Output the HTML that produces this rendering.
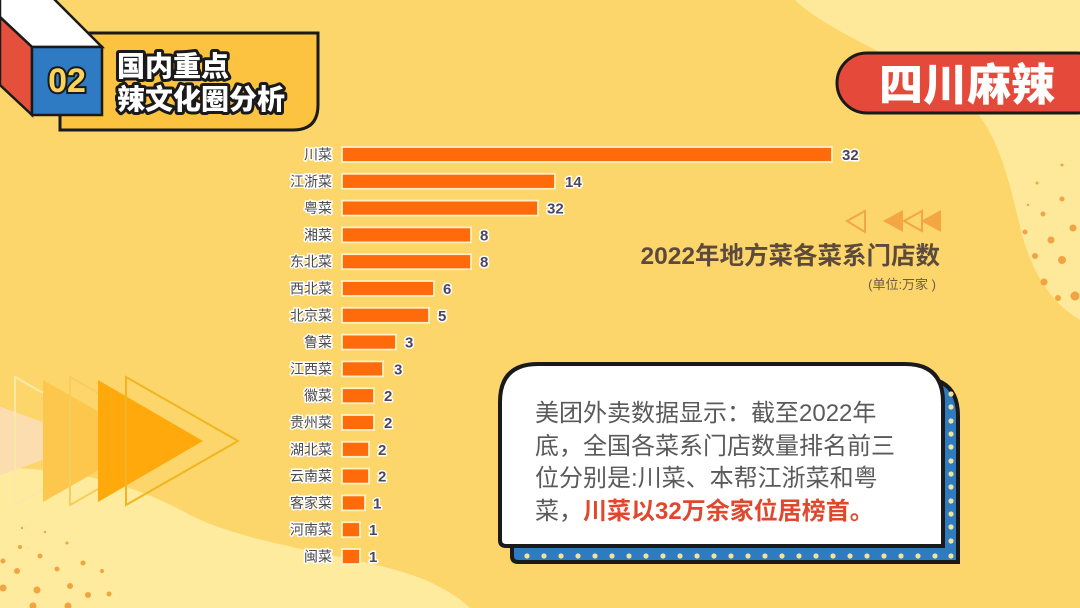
<!DOCTYPE html>
<html><head><meta charset="utf-8"><style>
html,body{margin:0;padding:0;background:#FDD66B;}
svg{display:block;}
text{font-family:"Liberation Sans","Noto Sans CJK SC",sans-serif;}
</style></head><body>
<svg width="1080" height="608" viewBox="0 0 1080 608" xmlns="http://www.w3.org/2000/svg">
<rect width="1080" height="608" fill="#FDD66B"/>
<!-- light blobs -->
<path d="M795,0 C830,35 930,70 970,105 C1000,135 1010,185 1022,235 C1035,280 1055,305 1080,320 L1080,0 Z" fill="#FEE99A"/>
<path d="M0,468 C70,468 130,482 190,515 C260,550 370,555 430,582 C450,592 462,600 470,608 L0,608 Z" fill="#FEEB9E"/>
<!-- dots right -->
<g fill="#F2A440">
<circle cx="1062" cy="165" r="1.5"/><circle cx="1037" cy="183" r="1.5"/><circle cx="1062" cy="199" r="2.5"/>
<circle cx="1028" cy="205" r="1.2"/><circle cx="1043" cy="214" r="2.5"/><circle cx="1073" cy="228" r="3.5"/>
<circle cx="1025" cy="232" r="2.5"/><circle cx="1051" cy="240" r="3.5"/><circle cx="1035" cy="256" r="3"/>
<circle cx="1062" cy="260" r="4"/><circle cx="1044" cy="282" r="3.5"/><circle cx="1075" cy="296" r="4.5"/>
<circle cx="1058" cy="298" r="3"/>
</g>
<!-- dots bottom-left -->
<g fill="#F2A440">
<circle cx="22" cy="528" r="1.2"/><circle cx="45" cy="532" r="1.2"/><circle cx="67" cy="543" r="1.5"/>
<circle cx="20" cy="547" r="2"/><circle cx="40" cy="556" r="2.5"/><circle cx="83" cy="563" r="2.5"/>
<circle cx="3" cy="561" r="2.5"/><circle cx="17" cy="571" r="3"/><circle cx="57" cy="569" r="2.5"/>
<circle cx="102" cy="571" r="2"/><circle cx="70" cy="586" r="3"/><circle cx="37" cy="590" r="3.5"/>
<circle cx="3" cy="588" r="3.5"/><circle cx="88" cy="595" r="3"/><circle cx="109" cy="594" r="2.5"/>
<circle cx="33" cy="606" r="3.5"/><circle cx="68" cy="606" r="3.5"/>
</g>
<!-- left triangles -->
<polygon points="-60,385 -60,497 95,441" fill="#FBDDB0"/>
<polygon points="15,377 15,505 127,441" fill="none" stroke="#FCE7A8" stroke-width="2"/>
<polygon points="43,380 43,502 150,441" fill="#FDC64C"/>
<polygon points="70,377 70,505 182,441" fill="none" stroke="#F7CE5E" stroke-width="2"/>
<polygon points="98,380 98,502 203,441" fill="#FFA90C"/>
<polygon points="126,377 126,505 238,441" fill="none" stroke="#F1B422" stroke-width="2"/>

<!-- header tab -->
<path d="M60,33 L318,33 L318,105 Q318,130 293,130 L60,130 Z" fill="#FBC33F" stroke="#1a1a1a" stroke-width="3"/>
<!-- cube -->
<polygon points="0,-5 50,-5 102,47 32,47 0,17" fill="#FFFFFF" stroke="#1a1a1a" stroke-width="2.5"/>
<polygon points="0,17 32,47 32,115 0,85" fill="#E5503C" stroke="#1a1a1a" stroke-width="2.5"/>
<rect x="32" y="47" width="70" height="68" fill="#2E7BC4" stroke="#1a1a1a" stroke-width="2.5"/>
<text x="67" y="92" text-anchor="middle" font-size="34" font-weight="bold" fill="#FCD35A" stroke="#1a1a1a" stroke-width="4" paint-order="stroke" style="font-family:'Liberation Sans',sans-serif">02</text>
<text x="117" y="76" font-size="28" font-weight="900" fill="#FFFFFF" stroke="#1a1a1a" stroke-width="6" paint-order="stroke" stroke-linejoin="round">国内重点</text>
<text x="117" y="109" font-size="28" font-weight="900" fill="#FFFFFF" stroke="#1a1a1a" stroke-width="6" paint-order="stroke" stroke-linejoin="round">辣文化圈分析</text>

<!-- right pill -->
<rect x="837" y="53" width="270" height="60" rx="30" fill="#E5493A" stroke="#1a1a1a" stroke-width="3"/>
<text x="879" y="100" font-size="44" font-weight="900" fill="#FFFFFF">四川麻辣</text>

<!-- title -->
<g fill="#F4A544">
<polygon points="847,221 865,211 865,232" fill="none" stroke="#F4A544" stroke-width="2"/>
<polygon points="883,221 903,210 903,232"/>
<polygon points="904,221 922,211 922,231" fill="none" stroke="#F4A544" stroke-width="2"/>
<polygon points="921,221 941,210 941,232"/>
</g>
<text x="940" y="264" text-anchor="end" font-size="24.5" font-weight="bold" fill="#5C4A3C">2022年地方菜各菜系门店数</text>
<text x="936" y="289" text-anchor="end" font-size="13" fill="#6B5A48">(单位:万家 )</text>

<!-- bars -->
<g stroke="#FFF0C0" stroke-width="1.8" fill="#FF6A0A">
<rect x="342" y="147" width="490" height="15"/>
<rect x="342" y="173.8" width="213" height="15"/>
<rect x="342" y="200.6" width="196" height="15"/>
<rect x="342" y="227.4" width="129" height="15"/>
<rect x="342" y="254.2" width="129" height="15"/>
<rect x="342" y="281" width="92" height="15"/>
<rect x="342" y="307.8" width="87" height="15"/>
<rect x="342" y="334.6" width="54" height="15"/>
<rect x="342" y="361.4" width="41" height="15"/>
<rect x="342" y="388.2" width="32" height="15"/>
<rect x="342" y="415" width="32" height="15"/>
<rect x="342" y="441.8" width="27" height="15"/>
<rect x="342" y="468.6" width="27" height="15"/>
<rect x="342" y="495.4" width="23" height="15"/>
<rect x="342" y="522.2" width="18" height="15"/>
<rect x="342" y="549" width="18" height="15"/>
</g>
<g font-size="14" fill="#4A4A4A" text-anchor="end" stroke="#FFFFFF" stroke-width="3" paint-order="stroke" stroke-linejoin="round">
<text x="332" y="159.5">川菜</text>
<text x="332" y="186.3">江浙菜</text>
<text x="332" y="213.1">粤菜</text>
<text x="332" y="239.9">湘菜</text>
<text x="332" y="266.7">东北菜</text>
<text x="332" y="293.5">西北菜</text>
<text x="332" y="320.3">北京菜</text>
<text x="332" y="347.1">鲁菜</text>
<text x="332" y="373.9">江西菜</text>
<text x="332" y="400.7">徽菜</text>
<text x="332" y="427.5">贵州菜</text>
<text x="332" y="454.3">湖北菜</text>
<text x="332" y="481.1">云南菜</text>
<text x="332" y="507.9">客家菜</text>
<text x="332" y="534.7">河南菜</text>
<text x="332" y="561.5">闽菜</text>
</g>
<g font-size="15" font-weight="bold" fill="#4B4560" stroke="#FFFFFF" stroke-width="3" paint-order="stroke" stroke-linejoin="round" style="font-family:'Liberation Sans',sans-serif">
<text x="842" y="160">32</text>
<text x="565" y="186.8">14</text>
<text x="547" y="213.6">32</text>
<text x="480" y="240.4">8</text>
<text x="480" y="267.2">8</text>
<text x="443" y="294">6</text>
<text x="438" y="320.8">5</text>
<text x="405" y="347.6">3</text>
<text x="394" y="374.4">3</text>
<text x="384" y="401.2">2</text>
<text x="384" y="428">2</text>
<text x="378" y="454.8">2</text>
<text x="378" y="481.6">2</text>
<text x="373" y="508.4">1</text>
<text x="369" y="535.2">1</text>
<text x="369" y="562">1</text>
</g>

<!-- text box shadow -->
<path d="M550,378 L920,378 Q958,378 958,416 L958,562 L518,562 Q512,562 512,556 L512,416 Q512,378 550,378 Z" fill="#2F7BC0" stroke="#1a1a1a" stroke-width="4"/>
<g fill="#F2E29A">
<circle cx="527" cy="556" r="2.6"/><circle cx="544" cy="556" r="2.6"/><circle cx="561" cy="556" r="2.6"/><circle cx="578" cy="556" r="2.6"/><circle cx="595" cy="556" r="2.6"/><circle cx="612" cy="556" r="2.6"/><circle cx="629" cy="556" r="2.6"/><circle cx="646" cy="556" r="2.6"/><circle cx="663" cy="556" r="2.6"/><circle cx="680" cy="556" r="2.6"/><circle cx="697" cy="556" r="2.6"/><circle cx="714" cy="556" r="2.6"/><circle cx="731" cy="556" r="2.6"/><circle cx="748" cy="556" r="2.6"/><circle cx="765" cy="556" r="2.6"/><circle cx="782" cy="556" r="2.6"/><circle cx="799" cy="556" r="2.6"/><circle cx="816" cy="556" r="2.6"/><circle cx="833" cy="556" r="2.6"/><circle cx="850" cy="556" r="2.6"/><circle cx="867" cy="556" r="2.6"/><circle cx="884" cy="556" r="2.6"/><circle cx="901" cy="556" r="2.6"/><circle cx="918" cy="556" r="2.6"/><circle cx="935" cy="556" r="2.6"/><circle cx="951" cy="556" r="2.6"/>
<circle cx="951" cy="394" r="2.6"/><circle cx="951" cy="407" r="2.6"/><circle cx="951" cy="421" r="2.6"/><circle cx="951" cy="434" r="2.6"/><circle cx="951" cy="447" r="2.6"/><circle cx="951" cy="461" r="2.6"/><circle cx="951" cy="474" r="2.6"/><circle cx="951" cy="487" r="2.6"/><circle cx="951" cy="501" r="2.6"/><circle cx="951" cy="514" r="2.6"/><circle cx="951" cy="527" r="2.6"/><circle cx="951" cy="541" r="2.6"/>
</g>
<!-- white box -->
<path d="M538,364 L905,364 Q943,364 943,402 L943,546 L506,546 Q500,546 500,540 L500,402 Q500,364 538,364 Z" fill="#FFFFFF" stroke="#1a1a1a" stroke-width="4"/>
<g font-size="24" fill="#5A5A5A">
<text x="535" y="421">美团外卖数据显示：截至2022年</text>
<text x="535" y="454">底，全国各菜系门店数量排名前三</text>
<text x="535" y="486">位分别是:川菜、本帮江浙菜和粤</text>
<text x="535" y="519">菜，<tspan font-weight="bold" fill="#E0482E">川菜以32万余家位居榜首。</tspan></text>
</g>
</svg>
</body></html>
